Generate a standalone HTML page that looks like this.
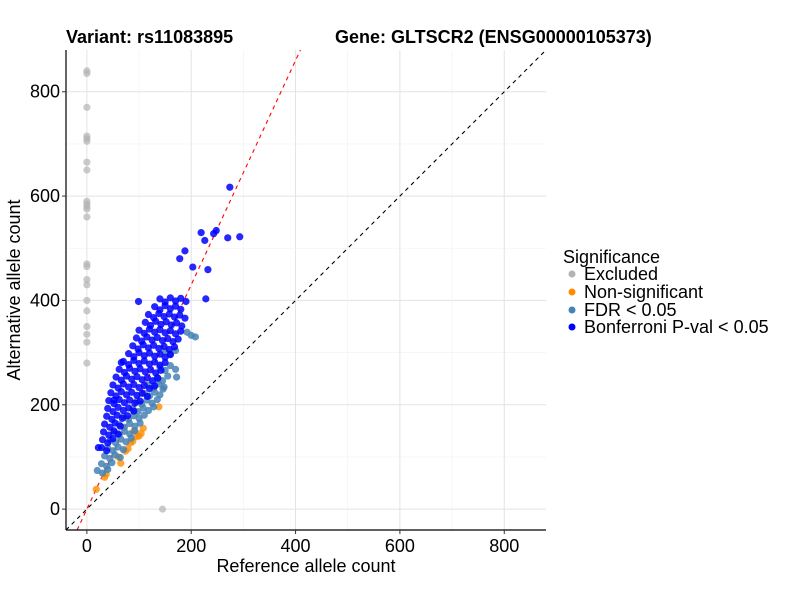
<!DOCTYPE html>
<html><head><meta charset="utf-8"><style>
body{margin:0;background:#fff;}
svg{font-family:"Liberation Sans",Arial,sans-serif;}
</style></head><body>
<svg id="chart" width="800" height="600">
<g id="grid"></g>
<g id="lines"></g>
<g id="pts"></g>
<g id="axes"></g>
<text x="66" y="43" font-size="18" font-weight="bold">Variant: rs11083895</text>
<text x="335" y="43" font-size="18" font-weight="bold">Gene: GLTSCR2 (ENSG00000105373)</text>
<text x="306" y="572" font-size="18" text-anchor="middle">Reference allele count</text>
<text transform="translate(20,290) rotate(-90)" font-size="18" text-anchor="middle">Alternative allele count</text>
<g>
<text x="563" y="263" font-size="18">Significance</text>
<g><circle cx="572" cy="274" r="3.5" fill="#b3b3b3"/><text x="584" y="280" font-size="18">Excluded</text></g>
<g><circle cx="572" cy="292" r="3.5" fill="#ff8c00"/><text x="584" y="298" font-size="18">Non-significant</text></g>
<g><circle cx="572" cy="310" r="3.5" fill="#4682b4"/><text x="584" y="316" font-size="18">FDR &lt; 0.05</text></g>
<g><circle cx="572" cy="327" r="3.5" fill="#0000ff"/><text x="584" y="333" font-size="18">Bonferroni P-val &lt; 0.05</text></g>
</g>
</svg>
<script>
const xTicks=[0,200,400,600,800];
const yTicks=[0,200,400,600,800];
const excludedX=[0,0,0,0,0,0,0,0,0,0,0,0,0,0,0,0,0,0,0,0,0,0,0,145];
const excludedY=[840,835,770,715,710,705,665,650,590,585,580,575,560,470,465,440,430,400,380,350,335,320,280,0];
const nonsigX=[18,34,37,65,74,79,84,95,104,108,138,60,90,88,100];
const nonsigY=[38,61,67,88,111,116,127,139,145,155,196,100,150,130,140];
const fdrX=[192,200,208, 150,160,170, 140,150,160,170, 135,145,155, 118,128,138,148, 110,120,130,140, 95,105,115,125,135, 88,98,108,118,128, 70,80,90,100,110, 62,72,82,92,102, 52,62,72,82,92, 45,55,65,75,85, 40,50,60,70, 34,44,54,64, 28,38,48, 20,30,40, 172,146];
const fdrY=[339,333,330, 302,297,304, 272,266,275,268, 252,246,255, 238,232,240,234, 222,217,224,219, 207,201,209,203,210, 192,187,194,189,196, 177,172,179,174,180, 162,157,164,159,165, 147,142,149,144,150, 132,127,134,129,136, 117,112,119,114, 102,97,104,99, 87,82,89, 74,69,76, 253,230];
const bonfX=[140,150,160,170,180,190, 130,140,150,160,170,180, 118,128,138,148,158,168,178,188, 112,122,132,142,152,162,172,182, 100,110,120,130,140,150,160,170,180, 95,105,115,125,135,145,155,165,175, 88,98,108,118,128,138,148,158,168, 80,90,100,110,120,130,140,150,160, 70,80,90,100,110,120,130,140,150, 62,72,82,92,102,112,122,132,142, 56,66,76,86,96,106,116,126,136, 50,60,70,80,90,100,110,120,130, 46,56,66,76,86,96,106,116, 42,52,62,72,82,92,102, 40,50,60,70,80,90, 38,48,58,68,78, 34,44,54,64, 32,42,52,60, 30,40,50, 28,38, 274,219,226,248,243,270,293,188,178,203,232,99,228,66,52,22];
const bonfY=[403,397,405,399,404,398, 388,382,390,384,389,383, 373,367,375,369,374,368,372,366, 358,352,360,354,359,353,357,351, 343,337,345,339,344,338,342,336,341, 328,322,330,324,329,323,327,321,326, 313,307,315,309,314,308,312,306,311, 298,292,300,294,299,293,297,291,296, 283,277,285,279,284,278,282,276,281, 268,262,270,264,269,263,267,261,266, 253,247,255,249,254,248,252,246,251, 238,232,240,234,239,233,237,231,236, 223,217,225,219,224,218,222,216, 208,202,210,204,209,203,207, 193,187,195,189,194,188, 178,172,180,174,179, 163,157,165,159, 148,142,150,144, 133,127,135, 118,112, 617,530,515,534,528,520,522,495,480,464,459,398,403,281,209,118];

const NS='http://www.w3.org/2000/svg';
const X0=66,X1=546,Y0=50,Y1=530,DMIN=-40,DMAX=880;
function sx(v){return X0+(v-DMIN)/(DMAX-DMIN)*(X1-X0);}
function sy(v){return Y1-(v-DMIN)/(DMAX-DMIN)*(Y1-Y0);}
function mk(tag,parent,attrs){const e=document.createElementNS(NS,tag);for(const k in attrs)e.setAttribute(k,attrs[k]);document.getElementById(parent).appendChild(e);return e;}

for(let v=-100;v<=900;v+=100){
  if(v<DMIN||v>DMAX)continue;
  const major=v%200===0;
  const c=major?'#e3e3e3':'#f0f0f0';
  const g1=mk('line','grid',{x1:sx(v),x2:sx(v),y1:Y0,y2:Y1,stroke:c,'stroke-width':major?1:0.6});
  
  
  const g2=mk('line','grid',{x1:X0,x2:X1,y1:sy(v),y2:sy(v),stroke:c,'stroke-width':major?1:0.6});
  
  
}
const idl=mk('line','lines',{x1:sx(DMIN),y1:sy(DMIN),x2:sx(DMAX),y2:sy(DMAX),stroke:'#000','stroke-width':1.1,'stroke-dasharray':'4,4'});


const slope=2.15;
const fl=mk('line','lines',{x1:sx(DMIN/slope),y1:sy(DMIN),x2:sx(DMAX/slope),y2:sy(DMAX),stroke:'#ff0000','stroke-width':1.1,'stroke-dasharray':'4,4'});



function drawSeries(xs,ys,col,op,name){
  for(let i=0;i<xs.length;i++){
    const c=mk('circle','pts',{cx:sx(xs[i]),cy:sy(ys[i]),r:3.6,fill:col,'fill-opacity':op});
    
    
  }
}
drawSeries(excludedX,excludedY,'#b3b3b3',0.7,'point-excluded');
drawSeries(nonsigX,nonsigY,'#ff8c00',0.8,'point-non-significant');
drawSeries(fdrX,fdrY,'#4682b4',0.85,'point-fdr');
drawSeries(bonfX,bonfY,'#0000ff',0.85,'point-bonferroni');

const ax=mk('line','axes',{x1:X0,x2:X0,y1:Y0,y2:Y1,stroke:'#000','stroke-width':1.2});


const bx=mk('line','axes',{x1:X0,x2:X1,y1:Y1,y2:Y1,stroke:'#000','stroke-width':1.2});


xTicks.forEach(v=>{
  const t=mk('line','axes',{x1:sx(v),x2:sx(v),y1:Y1,y2:Y1+4,stroke:'#333'});
  
  
  const l=mk('text','axes',{x:sx(v),y:Y1+22,'font-size':18,'text-anchor':'middle',fill:'#000'});
  l.textContent=v;
  
  
});
yTicks.forEach(v=>{
  const t=mk('line','axes',{x1:X0-4,x2:X0,y1:sy(v),y2:sy(v),stroke:'#333'});
  
  
  const l=mk('text','axes',{x:X0-6,y:sy(v)+6,'font-size':18,'text-anchor':'end',fill:'#000'});
  l.textContent=v;
  
  
});
</script>
</body></html>
